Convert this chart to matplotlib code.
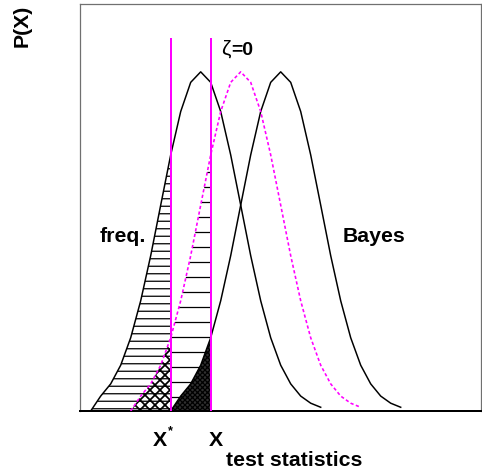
import numpy as np
import matplotlib
matplotlib.use("Agg")
import matplotlib.pyplot as plt

plt.rcParams['font.family'] = ['Liberation Sans', 'DejaVu Sans']
plt.rcParams['hatch.linewidth'] = 1.0

# ---- data ----
freq_x = [1, 2, 3, 4, 5, 6, 7, 8, 9, 10, 11, 12, 13, 14, 15, 16, 17, 18, 19, 20, 21, 22, 23, 24]
freq_y = [0.0, 0.044, 0.080, 0.135, 0.216, 0.325, 0.458, 0.607, 0.755, 0.883, 0.969, 1.0,
          0.969, 0.883, 0.755, 0.607, 0.458, 0.325, 0.216, 0.135, 0.080, 0.044, 0.023, 0.011]

zeta0_x = [5, 6, 7, 8, 9, 10, 11, 12, 13, 14, 15, 16, 17, 18, 19, 20, 21, 22, 23, 24, 25, 26, 27, 28]
zeta0_y = [0.0, 0.044, 0.080, 0.135, 0.216, 0.325, 0.458, 0.607, 0.755, 0.883, 0.969, 1.0,
           0.969, 0.883, 0.755, 0.607, 0.458, 0.325, 0.216, 0.135, 0.080, 0.044, 0.023, 0.011]

bayes_x = [9, 10, 11, 12, 13, 14, 15, 16, 17, 18, 19, 20, 21, 22, 23, 24, 25, 26, 27, 28, 29, 30, 31, 32]
bayes_y = [0.0, 0.044, 0.080, 0.135, 0.216, 0.325, 0.458, 0.607, 0.755, 0.883, 0.969, 1.0,
           0.969, 0.883, 0.755, 0.607, 0.458, 0.325, 0.216, 0.135, 0.080, 0.044, 0.023, 0.011]

x_star = 9.0
x_obs = 13.0
vline_top = 1.1

labels = {"ylabel": "P(X)", "xlabel": "test statistics", "freq": "freq.", "bayes": "Bayes"}

# ---- figure ----
W, H, DPI = 483, 474, 90
fig = plt.figure(figsize=(W / DPI, H / DPI), dpi=DPI)
ax = fig.add_axes([79.5 / W, 1 - 411 / H, (481.5 - 79.5) / W, (411 - 4) / H])
ax.set_xlim(-0.12, 40.08)
ax.set_ylim(0, 1.2)
ax.set_xticks([])
ax.set_yticks([])
for s in ['left', 'top', 'right']:
    ax.spines[s].set_color('#707070')
    ax.spines[s].set_linewidth(1.0)
ax.spines['bottom'].set_color('black')
ax.spines['bottom'].set_linewidth(1.6)

fx = np.array(freq_x, float); fy = np.array(freq_y, float)
zx = np.array(zeta0_x, float); zy = np.array(zeta0_y, float)
bx = np.array(bayes_x, float); by = np.array(bayes_y, float)

# freq. area left of X*: horizontal hatch
m = fx <= x_star
ax.fill_between(fx[m], 0, fy[m], facecolor='none', edgecolor='black', hatch='--', linewidth=0)
# zeta=0 area between X* and X: horizontal hatch (sparser)
m = (zx >= x_star) & (zx <= x_obs)
ax.fill_between(zx[m], 0, zy[m], facecolor='none', edgecolor='black', hatch='-', linewidth=0)
# zeta=0 area left of X*: cross hatch
with plt.rc_context({'hatch.linewidth': 1.4}):
    m = zx <= x_star
    ax.fill_between(zx[m], 0, zy[m], facecolor='none', edgecolor='black', hatch='xxx', linewidth=0)
# Bayes area left of X: dense dark
m = bx <= x_obs
ax.fill_between(bx[m], 0, by[m], facecolor='#303030', edgecolor='black', hatch='xxxxxx', linewidth=0)

# curves
ax.plot(fx, fy, color='black', lw=1.2, zorder=3)
ax.plot(bx, by, color='black', lw=1.2, zorder=3)
ax.plot(zx, zy, color='#ff00ff', lw=1.3, linestyle=(0, (2, 1.5)), zorder=3)

# vertical lines
ax.vlines([x_star, x_obs], 0, vline_top, colors='#ff00ff', lw=1.6, zorder=4)

# ---- texts ----
def ft(px, py, s, **kw):
    fig.text(px / W, 1 - py / H, s, **kw)

FS = 17
ft(22, 26, labels["ylabel"], rotation=90, ha='center', va='center', fontsize=FS, fontweight='bold')
ft(362, 466, labels["xlabel"], ha='right', va='baseline', fontsize=FS, fontweight='bold')
ft(100, 241.5, labels["freq"], ha='left', va='baseline', fontsize=FS, fontweight='bold')
ft(342.5, 242, labels["bayes"], ha='left', va='baseline', fontsize=FS, fontweight='bold')
ft(153, 446, "X", ha='left', va='baseline', fontsize=FS, fontweight='bold')
ft(168, 434, "*", ha='left', va='baseline', fontsize=10, fontweight='bold')
ft(209, 446, "X", ha='left', va='baseline', fontsize=FS, fontweight='bold')
ft(221, 55, "ζ", ha='left', va='baseline', fontsize=17)
ft(231.5, 55, "=0", ha='left', va='baseline', fontsize=15.5, fontweight='bold')

fig.savefig("out.png", dpi=DPI)
